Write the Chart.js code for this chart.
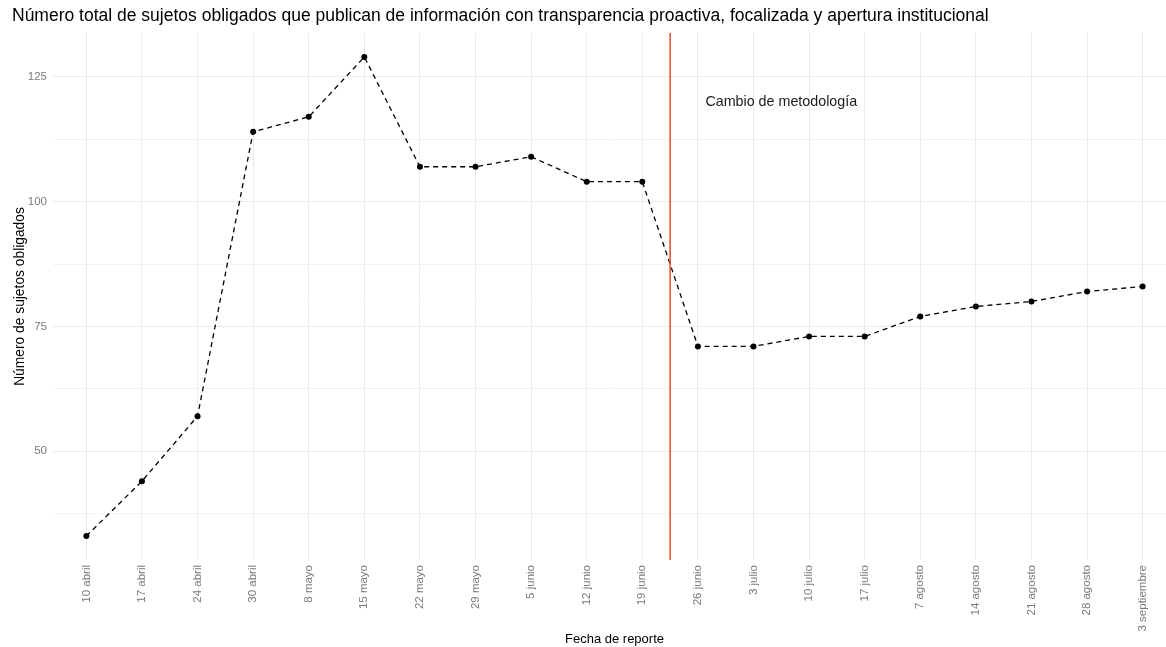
<!DOCTYPE html>
<html>
<head>
<meta charset="utf-8">
<script src="https://cdn.jsdelivr.net/npm/chart.js@4/dist/chart.umd.min.js"></script>
<style>
html,body{margin:0;padding:0;overflow:hidden;background:#fff;}
#wrap{width:1180px;height:647px;position:relative;}
</style>
</head>
<body>
<div id="wrap"><canvas id="c"></canvas></div>
<script>
const categories = ["10 abril","17 abril","24 abril","30 abril","8 mayo","15 mayo","22 mayo","29 mayo","5 junio","12 junio","19 junio","26 junio","3 julio","10 julio","17 julio","7 agosto","14 agosto","21 agosto","28 agosto","3 septiembre"];
const sujetos = [33,44,57,114,117,129,107,107,109,104,104,71,71,73,73,77,79,80,82,83];
const yTicks = [50,75,100,125];
const titleText = "Número total de sujetos obligados que publican de información con transparencia proactiva, focalizada y apertura institucional";
const xTitle = "Fecha de reporte";
const yTitle = "Número de sujetos obligados";
const cambioX = 10.5;
const annotation = {x: 12.5, y: 120, text: "Cambio de metodología"};

const FONT = "'Liberation Sans', Arial, Helvetica, sans-serif";
const points = sujetos.map((v,i)=>({x:i, y:v}));

const overlay = {
  id:'overlay',
  afterDatasetsDraw(chart){
    const {ctx, chartArea, scales:{x,y}} = chart;
    const px = x.getPixelForValue(cambioX);
    ctx.save();
    ctx.strokeStyle = '#e8472f';
    ctx.lineWidth = 1.5;
    ctx.beginPath();
    ctx.moveTo(px, chartArea.top);
    ctx.lineTo(px, chartArea.bottom);
    ctx.stroke();
    ctx.fillStyle = '#1a1a1a';
    ctx.font = "14.3px " + FONT;
    ctx.textAlign = 'center';
    ctx.textBaseline = 'middle';
    ctx.fillText(annotation.text, x.getPixelForValue(annotation.x), y.getPixelForValue(annotation.y));
    ctx.restore();
  }
};

new Chart(document.getElementById('c'), {
  type: 'line',
  data: {
    datasets: [{
      data: points,
      borderColor: '#000',
      borderWidth: 1.3,
      borderDash: [5,4],
      pointRadius: 3,
      pointBackgroundColor: '#000',
      pointBorderColor: '#000',
      pointBorderWidth: 0,
      tension: 0,
      fill: false
    }]
  },
  options: {
    responsive: true,
    maintainAspectRatio: false,
    animation: false,
    layout: {padding: {left: 12, right: 0, top: 0, bottom: 0}},
    plugins: {
      legend: {display: false},
      tooltip: {enabled: false},
      title: {
        display: true,
        text: titleText,
        align: 'start',
        color: '#000',
        font: {family: FONT, size: 17.5, weight: 'normal', lineHeight: 1.2},
        padding: {top: 6, bottom: 6}
      }
    },
    scales: {
      x: {
        type: 'linear',
        min: -0.6,
        max: 19.6,
        afterBuildTicks(s){ s.ticks = categories.map((c,i)=>({value:i})); },
        afterFit(s){ s.height = 87; },
        grid: {color: '#ebebeb', lineWidth: 1, drawTicks: false},
        border: {display: false},
        ticks: {
          autoSkip: false,
          maxRotation: 90,
          minRotation: 90,
          padding: 5,
          color: '#7a7a7a',
          font: {family: FONT, size: 11.5},
          callback: (v)=> categories[v]
        },
        title: {
          display: true,
          text: xTitle,
          color: '#000',
          font: {family: FONT, size: 13},
          padding: {top: 0, bottom: 0}
        }
      },
      y: {
        type: 'linear',
        min: 28.2,
        max: 133.8,
        afterBuildTicks(s){
          const t = [];
          for (let v = 37.5; v <= 130; v += 12.5) t.push({value: v});
          s.ticks = t;
        },
        afterFit(s){ s.width = 41; },
        grid: {
          drawTicks: false,
          color: '#ebebeb',
          lineWidth: (c)=> (yTicks.includes(c.tick && c.tick.value) ? 1 : 0.6)
        },
        border: {display: false},
        ticks: {
          padding: 6,
          color: '#7a7a7a',
          font: {family: FONT, size: 11.5},
          callback: (v)=> yTicks.includes(v) ? String(v) : ''
        },
        title: {
          display: true,
          text: yTitle,
          color: '#000',
          font: {family: FONT, size: 13.8},
          padding: {top: 0, bottom: 0}
        }
      }
    }
  },
  plugins: [overlay]
});
</script>
</body>
</html>
